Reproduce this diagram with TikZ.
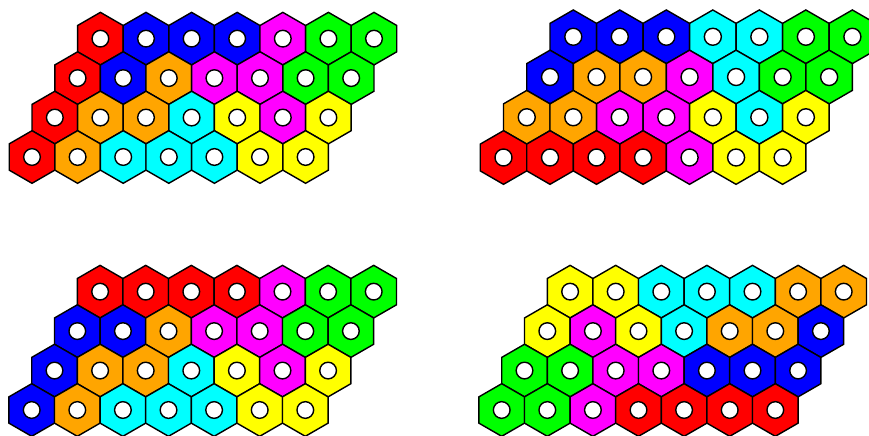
\documentclass[tikz,border=0pt]{standalone}
\usepackage{xcolor}
\definecolor{hxred}{RGB}{255,0,0}
\definecolor{hxblue}{RGB}{0,0,255}
\definecolor{hxgreen}{RGB}{0,255,0}
\definecolor{hxcyan}{RGB}{0,255,255}
\definecolor{hxmagenta}{RGB}{255,0,255}
\definecolor{hxyellow}{RGB}{255,255,0}
\definecolor{hxorange}{RGB}{255,165,0}
\usetikzlibrary{shapes.geometric}

% one board: #1 = name prefix, #2 = colour rows, top row first
\newcommand{\hexboard}[2]{%
  \foreach \cols [count=\r] in {#2} {
    \foreach \c [count=\k] in \cols {
      \node[hexcell, fill=\c] (#1-\r-\k)
        at ({(\k-1)*45.6+(4-\r)*22.8}, {(4-\r)*39.45}) {};
      \node[hole] (#1-\r-\k-o) at (#1-\r-\k.center) {};
    }
  }%
}

\begin{document}
\begin{tikzpicture}[x=0.03cm, y=0.03cm,
    hexcell/.style={regular polygon, regular polygon sides=6,
                    shape border rotate=30, minimum size=1.578cm,
                    inner sep=0pt, draw=black, line width=1.2pt},
    hole/.style={circle, draw=black, fill=white, line width=1.2pt,
                 minimum size=0.5cm, inner sep=0pt}
  ]
    \useasboundingbox (0,0) rectangle (869,435);

    % Board 1: top left
    \begin{scope}[shift={(32,278)}]
      \hexboard{tl}{{hxred,hxblue,hxblue,hxblue,hxmagenta,hxgreen,hxgreen},
                    {hxred,hxblue,hxorange,hxmagenta,hxmagenta,hxgreen,hxgreen},
                    {hxred,hxorange,hxorange,hxcyan,hxyellow,hxmagenta,hxyellow},
                    {hxred,hxorange,hxcyan,hxcyan,hxcyan,hxyellow,hxyellow}}
    \end{scope}

    % Board 2: top right
    \begin{scope}[shift={(503.5,277.5)}, scale=1.02, transform shape]
      \hexboard{tr}{{hxblue,hxblue,hxblue,hxcyan,hxcyan,hxgreen,hxgreen},
                    {hxblue,hxorange,hxorange,hxmagenta,hxcyan,hxgreen,hxgreen},
                    {hxorange,hxorange,hxmagenta,hxmagenta,hxyellow,hxcyan,hxyellow},
                    {hxred,hxred,hxred,hxred,hxmagenta,hxyellow,hxyellow}}
    \end{scope}

    % Board 3: bottom left
    \begin{scope}[shift={(31.7,25)}]
      \hexboard{bl}{{hxred,hxred,hxred,hxred,hxmagenta,hxgreen,hxgreen},
                    {hxblue,hxblue,hxorange,hxmagenta,hxmagenta,hxgreen,hxgreen},
                    {hxblue,hxorange,hxorange,hxcyan,hxyellow,hxmagenta,hxyellow},
                    {hxblue,hxorange,hxcyan,hxcyan,hxcyan,hxyellow,hxyellow}}
    \end{scope}

    % Board 4: bottom right
    \begin{scope}[shift={(501.7,25)}]
      \hexboard{br}{{hxyellow,hxyellow,hxcyan,hxcyan,hxcyan,hxorange,hxorange},
                    {hxyellow,hxmagenta,hxyellow,hxcyan,hxorange,hxorange,hxblue},
                    {hxgreen,hxgreen,hxmagenta,hxmagenta,hxblue,hxblue,hxblue},
                    {hxgreen,hxgreen,hxmagenta,hxred,hxred,hxred,hxred}}
    \end{scope}
  \end{tikzpicture}
\end{document}
